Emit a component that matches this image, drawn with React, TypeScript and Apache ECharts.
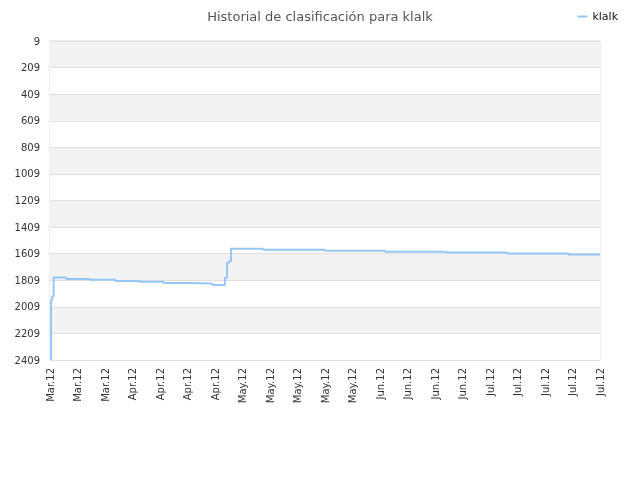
import React, { useEffect, useRef } from 'react'
import * as echarts from 'echarts'

// x positions are in "label steps" (0 = first tick label, 20 = last one)
const xLabels = [
    'Mar.12', 'Mar.12', 'Mar.12',
    'Apr.12', 'Apr.12', 'Apr.12', 'Apr.12',
    'May.12', 'May.12', 'May.12', 'May.12', 'May.12',
    'Jun.12', 'Jun.12', 'Jun.12', 'Jun.12',
    'Jul.12', 'Jul.12', 'Jul.12', 'Jul.12', 'Jul.12',
]
const stepX = [0.04, 0.04, 0.08, 0.13, 0.59, 1.46, 2.38, 3.25, 4.13, 5.04, 5.91, 6.36, 6.44, 6.53, 6.58, 7.74, 9.98, 12.19, 14.41, 16.62, 18.85, 20]
const ranks = [2409, 1957, 1930, 1789, 1799, 1806, 1814, 1821, 1829, 1834, 1844, 1790, 1676, 1664, 1572, 1580, 1587, 1594, 1601, 1608, 1615, 1615]
const rankMin = 9
const rankMax = 2409

const App: React.FC = () => {
    const chartRef = useRef(null)

    useEffect(() => {
        const chart = echarts.init(chartRef.current, null, { renderer: 'svg' })

        const option = {
            animation: false,
            textStyle: { fontFamily: 'DejaVu Sans' },
            title: {
                text: 'Historial de clasificación para klalk',
                left: 'center',
                top: 5,
                textStyle: { fontSize: 13, fontWeight: 'normal', color: '#555' },
            },
            legend: {
                right: 17,
                top: 6,
                icon: 'rect',
                itemWidth: 10,
                itemHeight: 2,
                itemGap: 5,
                textStyle: { fontSize: 11, color: '#111' },
                data: ['klalk'],
            },
            grid: {
                left: 50,
                right: 40,
                top: 41,
                bottom: 120,
                show: true,
                borderColor: '#dcdcdc',
                borderWidth: 1,
            },
            xAxis: {
                type: 'value',
                min: 0,
                max: 20,
                interval: 1,
                axisLine: { show: false },
                axisTick: { show: false },
                splitLine: { show: false },
                axisLabel: {
                    rotate: 90,
                    fontSize: 10,
                    color: '#333',
                    margin: 8,
                    formatter: (v: number) => xLabels[Math.round(v)] ?? '',
                },
            },
            yAxis: {
                type: 'value',
                inverse: true,
                min: 0,
                max: rankMax - rankMin,
                interval: 200,
                axisLine: { show: false },
                axisTick: { show: false },
                axisLabel: {
                    fontSize: 10,
                    color: '#333',
                    margin: 10,
                    formatter: (v: number) => String(v + rankMin),
                },
                splitLine: { show: true, lineStyle: { color: '#e0e0e0', width: 1 } },
                splitArea: { show: true, areaStyle: { color: ['#f3f3f3', '#ffffff'] } },
            },
            series: [
                {
                    name: 'klalk',
                    type: 'line',
                    step: 'end',
                    symbol: 'none',
                    data: stepX.map((x, i) => [x, ranks[i] - rankMin]),
                    lineStyle: { color: '#95c6f5', width: 2 },
                    itemStyle: { color: '#95c6f5' },
                },
            ],
        }

        chart.setOption(option)

        return () => {
            chart.dispose()
        }
    }, [])

    return (
        <div
            ref={chartRef}
            style={{ position: 'fixed', left: 0, top: 0, width: '640px', height: '480px' }}
        />
    )
}

export default App
